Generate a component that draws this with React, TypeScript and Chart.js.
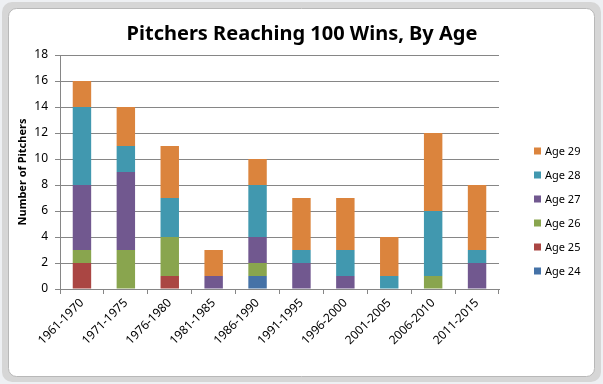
import React, { useEffect, useRef } from "react";
import { Chart, registerables } from "chart.js";

Chart.register(...registerables);

const categories = [
  "1961-1970",
  "1971-1975",
  "1976-1980",
  "1981-1985",
  "1986-1990",
  "1991-1995",
  "1996-2000",
  "2001-2005",
  "2006-2010",
  "2011-2015",
];

const age24 = [0, 0, 0, 0, 1, 0, 0, 0, 0, 0];
const age25 = [2, 0, 1, 0, 0, 0, 0, 0, 0, 0];
const age26 = [1, 3, 3, 0, 1, 0, 0, 0, 1, 0];
const age27 = [5, 6, 0, 1, 2, 2, 1, 0, 0, 2];
const age28 = [6, 2, 3, 0, 4, 1, 2, 1, 5, 1];
const age29 = [2, 3, 4, 2, 2, 4, 4, 3, 6, 5];

const seriesNames = ["Age 24", "Age 25", "Age 26", "Age 27", "Age 28", "Age 29"];
const seriesColors = ["#4572A7", "#AA4643", "#89A54E", "#71588F", "#4198AF", "#DB843D"];
const seriesValues = [age24, age25, age26, age27, age28, age29];

const yTicks = [0, 2, 4, 6, 8, 10, 12, 14, 16, 18];

const chartTitle = "Pitchers Reaching 100 Wins, By Age";

const FONT = "'Noto Sans', 'Open Sans', sans-serif";

const framePlugin = {
  id: "frame",
  beforeDraw(chart: any) {
    const { ctx, width, height } = chart;
    ctx.save();
    ctx.fillStyle = "#eef0f3";
    ctx.fillRect(0, 0, width, height);
    ctx.fillStyle = "#d6d6d6";
    ctx.beginPath();
    (ctx as any).roundRect(2, 2, width - 4, height - 4, 10);
    ctx.fill();
    ctx.fillStyle = "#ffffff";
    ctx.strokeStyle = "#b8b8b8";
    ctx.lineWidth = 1;
    ctx.beginPath();
    (ctx as any).roundRect(8.5, 8.5, width - 17, height - 16, 8);
    ctx.fill();
    ctx.stroke();
    ctx.restore();
  },
};

const titlePlugin = {
  id: "customTitle",
  afterDraw(chart: any) {
    const { ctx } = chart;
    ctx.save();
    ctx.font = `bold 20px ${FONT}`;
    ctx.fillStyle = "#000000";
    ctx.textAlign = "center";
    ctx.textBaseline = "middle";
    ctx.fillText(chartTitle, 302, 34);
    ctx.restore();
  },
};

const legendPlugin = {
  id: "customLegend",
  afterDraw(chart: any) {
    const { ctx } = chart;
    const ds = chart.data.datasets;
    const x = 534;
    const y0 = 151;
    const step = 24;
    ctx.save();
    ctx.font = `11px ${FONT}`;
    ctx.textBaseline = "middle";
    ctx.textAlign = "left";
    for (let i = ds.length - 1, row = 0; i >= 0; i--, row++) {
      const cy = y0 + row * step;
      ctx.fillStyle = ds[i].backgroundColor;
      ctx.fillRect(x, cy - 3.5, 7, 7);
      ctx.fillStyle = "#000000";
      ctx.fillText(ds[i].label, x + 11, cy + 0.5);
    }
    ctx.restore();
  },
};

export default function App() {
  const ref = useRef<HTMLCanvasElement | null>(null);

  useEffect(() => {
    document.body.style.margin = "0";
    const canvas = ref.current;
    if (!canvas) return;
    const chart = new Chart(canvas, {
      type: "bar",
      data: {
        labels: categories,
        datasets: seriesNames.map((name, i) => ({
          label: name,
          data: seriesValues[i],
          backgroundColor: seriesColors[i],
          borderWidth: 0,
          categoryPercentage: 1,
          barPercentage: 0.42,
        })),
      },
      options: {
        animation: false,
        responsive: false,
        devicePixelRatio: 1,
        layout: { padding: { left: 0, right: 104, top: 55, bottom: 0 } },
        plugins: {
          legend: { display: false },
          tooltip: { enabled: false },
          title: { display: false },
        },
        scales: {
          x: {
            stacked: true,
            grid: {
              display: true,
              drawOnChartArea: false,
              drawTicks: true,
              tickLength: 5,
              color: "#868686",
              offset: true,
            },
            border: { display: true, color: "#868686", width: 1 },
            ticks: {
              color: "#000000",
              font: { family: FONT, size: 12 },
              minRotation: 45,
              maxRotation: 45,
              padding: 2,
              labelOffset: 0,
              autoSkip: false,
            },
            afterFit(scale: any) {
              scale.height = 95;
            },
          },
          y: {
            stacked: true,
            min: 0,
            max: 18,
            afterBuildTicks(scale: any) {
              scale.ticks = yTicks.map((v) => ({ value: v }));
            },
            grid: {
              color: "#868686",
              drawTicks: true,
              tickLength: 5,
            },
            border: { display: true, color: "#868686", width: 1 },
            ticks: {
              color: "#000000",
              font: { family: FONT, size: 12 },
              padding: 7,
            },
            title: {
              display: true,
              text: "Number of Pitchers",
              color: "#000000",
              font: { family: FONT, size: 11, weight: "bold" },
              padding: { top: 16, bottom: 0 },
            },
            afterFit(scale: any) {
              scale.width = 60;
            },
          },
        },
      },
      plugins: [framePlugin, titlePlugin, legendPlugin],
    });
    return () => chart.destroy();
  }, []);

  return (
    <div style={{ width: 603, height: 384 }}>
      <canvas ref={ref} width={603} height={384} style={{ display: "block", width: 603, height: 384 }} />
    </div>
  );
}
